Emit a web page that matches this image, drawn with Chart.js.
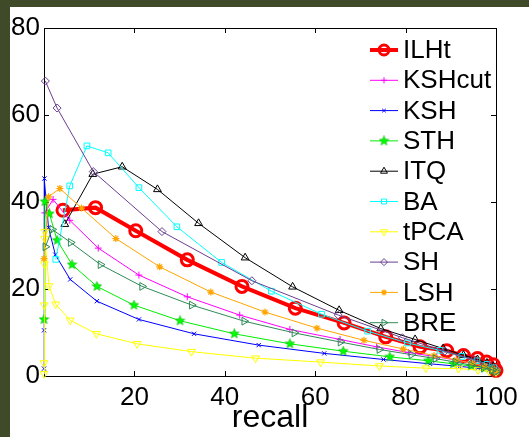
<!DOCTYPE html>
<html>
<head>
<meta charset="utf-8">
<script src="https://cdn.jsdelivr.net/npm/chart.js@4.4.1/dist/chart.umd.min.js"></script>
<style>
  html, body { margin: 0; padding: 0; background: #3e4a28; }
  #wrap { width: 529px; height: 437px; }
</style>
</head>
<body>
<div id="wrap"><canvas id="grafica" width="529" height="437"></canvas></div>
<script>
// --- datos (recall %, precision %) ---
const seriesNames = ['ILHt', 'KSHcut', 'KSH', 'STH', 'ITQ', 'BA', 'tPCA', 'SH', 'LSH', 'BRE'];

const ilhtRecall = [4.2, 11.4, 20.3, 31.7, 43.8, 55.6, 66.4, 75.6, 83.2, 89.1, 92.8, 95.9, 97.9, 99.4, 100];
const ilhtPrecision = [38.1, 38.7, 33.4, 26.7, 20.6, 15.6, 12.2, 9.0, 6.7, 5.8, 4.7, 4.0, 3.2, 2.6, 1.3];

const kshcutRecall = [0.2, 2.0, 5.7, 12.0, 21.0, 31.7, 43.3, 54.4, 65.5, 73.6, 80.6, 86.9, 91.5, 95, 97.5, 99.2, 100];
const kshcutPrecision = [37.5, 40.6, 35.8, 29.4, 23.2, 18.2, 14.0, 10.7, 8.4, 6.7, 5.4, 4.4, 3.6, 2.9, 2.3, 1.8, 1.2];

const kshRecall = [0, 0, 0.1, 1.0, 2.5, 5.8, 11.7, 21.0, 33.2, 47.5, 62.0, 75.1, 85.4, 92, 96, 98.5, 100];
const kshPrecision = [1.7, 10.5, 45.4, 34.1, 27.9, 22.2, 17.2, 13.0, 9.7, 7.1, 5.2, 3.8, 2.8, 2.2, 1.8, 1.4, 1.0];

const sthRecall = [0, 0.2, 1.2, 2.9, 6.2, 11.7, 19.9, 30.1, 42.1, 54.4, 66.2, 76.5, 85.0, 90.6, 94.5, 97.5, 99.3, 100];
const sthPrecision = [13.0, 40.1, 37.3, 31.2, 25.6, 20.6, 16.3, 12.7, 9.7, 7.4, 5.7, 4.4, 3.5, 2.8, 2.3, 1.8, 1.4, 1.1];

const itqRecall = [4.6, 10.8, 17.3, 25.1, 34.2, 44.5, 55.0, 65.3, 74.5, 82.1, 88.3, 92.8, 95.9, 98, 99.4, 100];
const itqPrecision = [34.9, 46.4, 48.1, 42.9, 35.1, 27.2, 20.5, 15.1, 10.9, 8.4, 6.3, 4.8, 3.8, 3.0, 2.2, 1.3];

const baRecall = [2.6, 5.7, 9.5, 14.2, 21.0, 29.4, 39.3, 50.3, 61.4, 71.6, 80.4, 87.6, 92.4, 95.8, 98, 99.5, 100];
const baPrecision = [26.8, 43.7, 52.9, 51.3, 43.3, 34.3, 26.1, 19.5, 14.2, 10.3, 7.6, 5.9, 4.5, 3.5, 2.7, 1.9, 1.2];

const tpcaRecall = [0, 0, 0.05, 0.1, 0.15, 0.2, 1.1, 2.6, 5.8, 11.6, 20.6, 32.6, 46.8, 61.2, 74.2, 84.5, 91.7, 96, 98.5, 100];
const tpcaPrecision = [0.5, 3.0, 16.3, 25.7, 31.6, 33.2, 20.7, 16.5, 12.8, 9.7, 7.4, 5.6, 4.1, 3.2, 2.3, 1.8, 1.7, 1.4, 1.1, 0.9];

const shRecall = [0.3, 2.9, 10.9, 26.1, 46.0, 65.1, 79.3, 88.7, 95.0, 98.5, 100];
const shPrecision = [67.8, 61.6, 47.0, 33.2, 21.9, 14.0, 8.8, 5.7, 3.8, 2.4, 1.3];

const lshRecall = [0, 1.0, 3.5, 8.3, 15.9, 25.6, 36.9, 48.9, 60.4, 70.8, 79.5, 86.3, 91.2, 94.8, 97.5, 99.3, 100];
const lshPrecision = [27.0, 41.2, 43.1, 38.6, 31.6, 25.1, 19.3, 14.7, 11.0, 8.2, 6.2, 4.7, 3.7, 2.9, 2.2, 1.6, 1.1];

const breRecall = [0.3, 1.8, 5.9, 12.5, 21.7, 32.7, 44.3, 55.4, 65.6, 74.2, 81.3, 86.6, 91, 94.5, 97.3, 99.2, 100];
const brePrecision = [29.7, 33.7, 30.7, 25.6, 20.6, 16.3, 12.6, 9.9, 7.8, 6.1, 4.9, 4.0, 3.2, 2.5, 1.9, 1.4, 1.0];

const xTicks = [0, 20, 40, 60, 80, 100];
const yTicks = [0, 20, 40, 60, 80];
const xTitle = 'recall';

// --- estilos ---
const FUENTE = "'Liberation Sans', Arial, sans-serif";

// pentagrama para STH (marcador de MATLAB 'p')
function crearPentagrama(color) {
    const c = document.createElement('canvas');
    c.width = 11; c.height = 11;
    const g = c.getContext('2d');
    g.beginPath();
    for (let i = 0; i < 10; i++) {
        const r = i % 2 === 0 ? 5 : 2.2;
        const a = -Math.PI / 2 + i * Math.PI / 5;
        const px = 5.5 + r * Math.cos(a), py = 5.5 + r * Math.sin(a);
        if (i === 0) g.moveTo(px, py); else g.lineTo(px, py);
    }
    g.closePath();
    g.fillStyle = color;
    g.fill();
    g.strokeStyle = '#00b000';
    g.lineWidth = 0.6;
    g.stroke();
    return c;
}

const estilos = [
    { color: '#ff0000', ancho: 4, punto: 'circle', radio: 6, rot: 0, grosor: 3 },
    { color: '#ff00ff', ancho: 1, punto: 'cross', radio: 3.5, rot: 0, grosor: 1 },
    { color: '#0000ff', ancho: 1, punto: 'crossRot', radio: 3, rot: 0, grosor: 1 },
    { color: '#00ee00', ancho: 1, punto: crearPentagrama('#00ff00'), radio: 5, rot: 0, grosor: 1 },
    { color: '#000000', ancho: 1, punto: 'triangle', radio: 4.5, rot: 0, grosor: 1 },
    { color: '#00ffff', ancho: 1, punto: 'rect', radio: 4, rot: 0, grosor: 1 },
    { color: '#ffff00', ancho: 1, punto: 'triangle', radio: 4.5, rot: 180, grosor: 1 },
    { color: '#6b3f8f', ancho: 1, punto: 'rectRot', radio: 4, rot: 0, grosor: 1 },
    { color: '#ffa500', ancho: 1, punto: 'star', radio: 3.5, rot: 0, grosor: 1.2 },
    { color: '#2e8b57', ancho: 1, punto: 'triangle', radio: 4.5, rot: 90, grosor: 1 }
];

const recalls = [ilhtRecall, kshcutRecall, kshRecall, sthRecall, itqRecall, baRecall, tpcaRecall, shRecall, lshRecall, breRecall];
const precisions = [ilhtPrecision, kshcutPrecision, kshPrecision, sthPrecision, itqPrecision, baPrecision, tpcaPrecision, shPrecision, lshPrecision, brePrecision];

const datasets = seriesNames.map((nombre, i) => {
    const e = estilos[i];
    return {
        label: nombre,
        data: recalls[i].map((x, k) => ({ x: x, y: precisions[i][k] })),
        showLine: true,
        borderColor: e.color,
        backgroundColor: 'rgba(0,0,0,0)',
        borderWidth: e.ancho,
        pointStyle: e.punto,
        pointRadius: e.radio,
        pointRotation: e.rot,
        pointBorderColor: e.color,
        pointBackgroundColor: 'rgba(0,0,0,0)',
        pointBorderWidth: e.grosor,
        tension: 0,
        clip: false,
        order: 20 - i
    };
});

// fondo: borde oliva y figura blanca
const fondoPlugin = {
    id: 'fondo',
    beforeDraw(chart) {
        const ctx = chart.ctx;
        ctx.save();
        ctx.fillStyle = '#3e4a28';
        ctx.fillRect(0, 0, chart.width, chart.height);
        ctx.fillStyle = '#ffffff';
        ctx.fillRect(10, 7, chart.width - 10, chart.height - 7);
        ctx.restore();
    }
};

// marco de ejes con marcas hacia dentro (estilo MATLAB)
const marcoPlugin = {
    id: 'marco',
    beforeDatasetsDraw(chart) {
        const { ctx, chartArea: a, scales } = chart;
        ctx.save();
        ctx.strokeStyle = '#000000';
        ctx.lineWidth = 1;
        ctx.strokeRect(a.left + 0.5, a.top + 0.5, a.right - a.left, a.bottom - a.top);
        const L = 5;
        ctx.beginPath();
        xTicks.forEach(v => {
            const px = Math.round(scales.x.getPixelForValue(v)) + 0.5;
            ctx.moveTo(px, a.bottom); ctx.lineTo(px, a.bottom - L);
            ctx.moveTo(px, a.top); ctx.lineTo(px, a.top + L);
        });
        yTicks.forEach(v => {
            const py = Math.round(scales.y.getPixelForValue(v)) + 0.5;
            ctx.moveTo(a.left, py); ctx.lineTo(a.left + L, py);
            ctx.moveTo(a.right, py); ctx.lineTo(a.right - L, py);
        });
        ctx.stroke();
        ctx.restore();
    }
};

// leyenda dentro del área del gráfico, sin caja
const leyendaPlugin = {
    id: 'leyendaInterna',
    afterDatasetsDraw(chart) {
        const ctx = chart.ctx;
        const x0 = 370, x1 = 398, xt = 403, y0 = 50, paso = 30.3;
        ctx.save();
        chart.data.datasets.forEach((ds, i) => {
            const y = y0 + i * paso;
            ctx.strokeStyle = ds.borderColor;
            ctx.lineWidth = ds.borderWidth;
            ctx.beginPath();
            ctx.moveTo(x0, y); ctx.lineTo(x1, y);
            ctx.stroke();
            ctx.fillStyle = 'rgba(0,0,0,0)';
            ctx.lineWidth = ds.pointBorderWidth;
            Chart.helpers.drawPoint(ctx, {
                pointStyle: ds.pointStyle,
                rotation: ds.pointRotation,
                radius: i === 0 ? 5 : ds.pointRadius - 0.5,
                borderWidth: ds.pointBorderWidth
            }, (x0 + x1) / 2, y);
            ctx.fillStyle = '#000000';
            ctx.font = '26px ' + FUENTE;
            ctx.textBaseline = 'middle';
            ctx.textAlign = 'left';
            ctx.fillText(ds.label, xt, y + 1);
        });
        ctx.restore();
    }
};

let miGrafica = new Chart(document.getElementById('grafica'), {
    type: 'scatter',
    data: { datasets: datasets },
    options: {
        responsive: false,
        animation: false,
        layout: { padding: { left: 0, top: 28, right: 33, bottom: 0 } },
        plugins: { legend: { display: false }, tooltip: { enabled: false } },
        scales: {
            x: {
                type: 'linear', min: 0, max: 100,
                afterBuildTicks: s => { s.ticks = xTicks.map(v => ({ value: v })); },
                afterFit: s => { s.height = 61; },
                grid: { display: false, drawTicks: false },
                border: { display: false },
                ticks: {
                    color: '#000', padding: 6, maxRotation: 0, autoSkip: false,
                    font: { size: 26, family: FUENTE },
                    callback: v => v === 0 ? '' : v
                },
                title: {
                    display: true, text: xTitle, color: '#000', padding: 0,
                    font: { size: 32, family: FUENTE }
                }
            },
            y: {
                type: 'linear', min: 0, max: 80,
                afterBuildTicks: s => { s.ticks = yTicks.map(v => ({ value: v })); },
                afterFit: s => { s.width = 44; },
                grid: { display: false, drawTicks: false },
                border: { display: false },
                ticks: {
                    color: '#000', padding: 4, autoSkip: false,
                    font: { size: 26, family: FUENTE }
                }
            }
        }
    },
    plugins: [fondoPlugin, marcoPlugin, leyendaPlugin]
});
</script>
</body>
</html>
